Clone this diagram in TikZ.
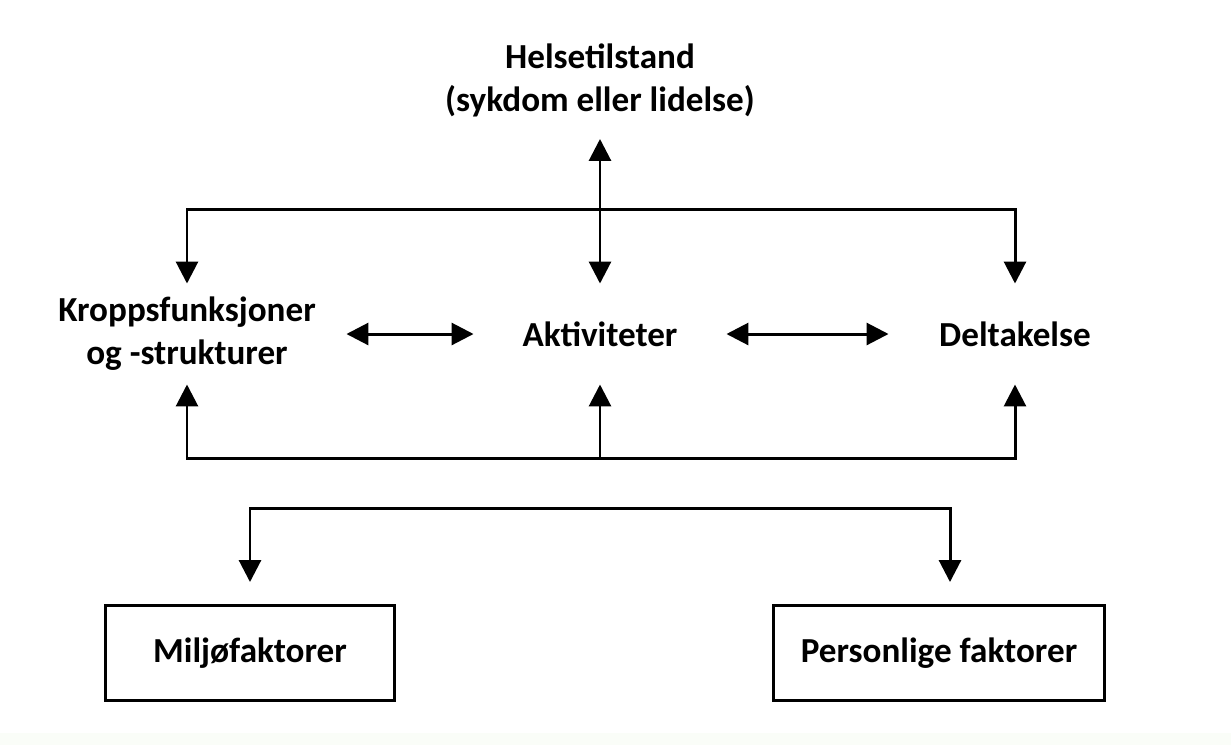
\documentclass[tikz,border=0pt]{standalone}
\usepackage{fontspec}
\setmainfont{Carlito}
\usetikzlibrary{arrows.meta}
\definecolor{bandgreen}{RGB}{250,253,248}

\begin{document}
\begin{tikzpicture}[x=0.02cm, y=-0.02cm, line width=1.7pt,
    every node/.style={font=\bfseries\fontsize{20}{24.5}\selectfont, align=center},
    arr/.style={-{Triangle[width=0.44cm,length=0.44cm]}},
    dbl/.style={{Triangle[width=0.44cm,length=0.44cm]}-{Triangle[width=0.44cm,length=0.44cm]}},
    box/.style={draw, minimum height=1.9cm}]

    % Background
    \fill[white] (0,0) rectangle (1231,745);
    \fill[bandgreen] (0,733) rectangle (1231,745);

    % Text nodes
    \node[minimum height=2.3cm] (helse) at (600,80) {Helsetilstand\\(sykdom eller lidelse)};
    \node[minimum height=1.96cm, minimum width=6.32cm] (kropp) at (187,334) {Kroppsfunksjoner\\og -strukturer};
    \node[minimum height=1.96cm, minimum width=5cm] (akt) at (600,334) {Aktiviteter};
    \node[minimum height=1.96cm, minimum width=5cm] (delta) at (1015,334) {Deltakelse};

    % Boxes
    \node[box, minimum width=5.8cm] (miljo) at (250,653) {Miljøfaktorer};
    \node[box, minimum width=6.64cm] (pers) at (939,653) {Personlige faktorer};

    % Corner points
    \coordinate (t1) at (187,209);
    \coordinate (t2) at (1015,209);
    \coordinate (u1) at (187,458);
    \coordinate (u2) at (600,458);
    \coordinate (u3) at (1015,458);
    \coordinate (m1) at (250,508);
    \coordinate (m2) at (950,508);

    % Arrows
    \draw[dbl] (kropp.north) -- (t1) -- (t2) -- (delta.north);
    \draw[dbl] (helse.south) -- (akt.north);
    \draw[dbl] (kropp.east) -- (akt.west);
    \draw[dbl] (akt.east) -- (delta.west);
    \draw[dbl] (kropp.south) -- (u1) -- (u3) -- (delta.south);
    \draw[arr] (u2) -- (akt.south);
    \draw[dbl, shorten <=0.44cm, shorten >=0.44cm] (miljo.north) -- (m1) -- (m2) -- (m2 |- pers.north);

\end{tikzpicture}
\end{document}
